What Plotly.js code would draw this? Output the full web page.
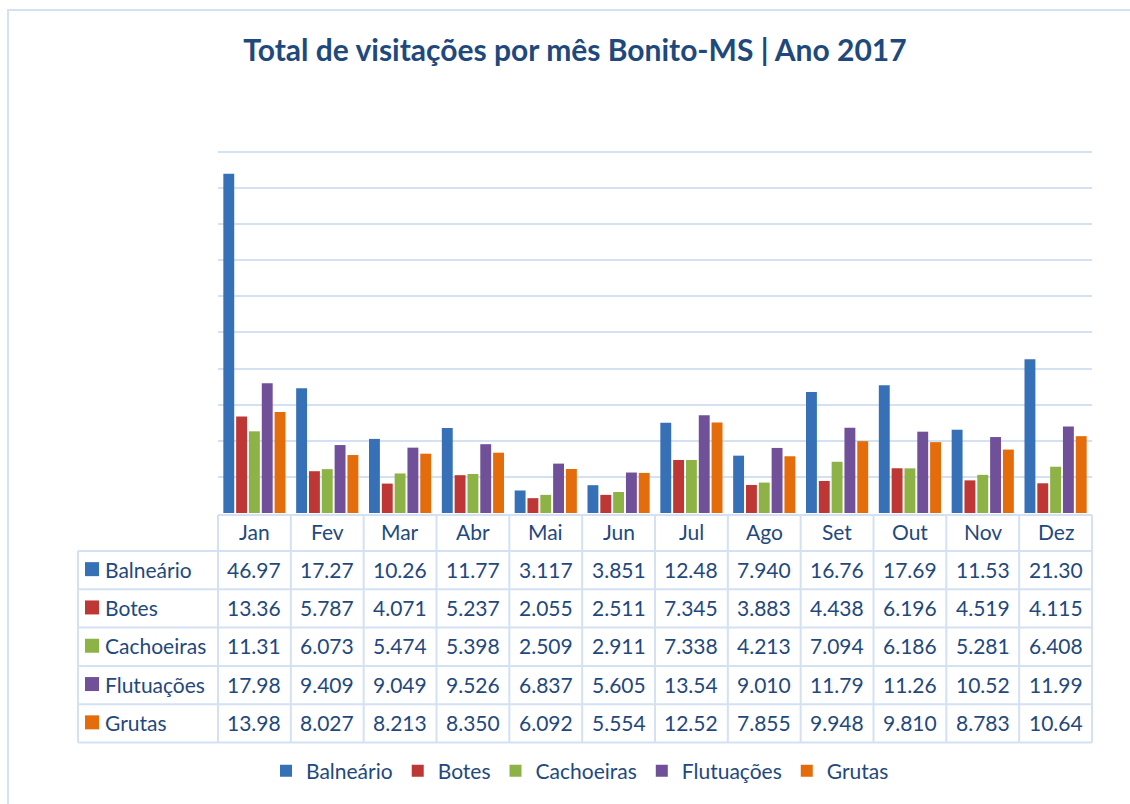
<!DOCTYPE html>
<html>
<head>
<meta charset="utf-8">
<script src="https://cdn.plot.ly/plotly-3.0.1.min.js"></script>
<style>
  html, body { margin: 0; padding: 0; background: #ffffff; }
  #chart { width: 1130px; height: 804px; }
</style>
</head>
<body>
<div id="chart"></div>
<script>
// ---- Data (values in thousands of visits) ----
const months = ["Jan", "Fev", "Mar", "Abr", "Mai", "Jun", "Jul", "Ago", "Set", "Out", "Nov", "Dez"];
const seriesNames = ["Balneário", "Botes", "Cachoeiras", "Flutuações", "Grutas"];
const balneario  = [46.97, 17.27, 10.26, 11.77, 3.117, 3.851, 12.48, 7.940, 16.76, 17.69, 11.53, 21.30];
const botes      = [13.36, 5.787, 4.071, 5.237, 2.055, 2.511, 7.345, 3.883, 4.438, 6.196, 4.519, 4.115];
const cachoeiras = [11.31, 6.073, 5.474, 5.398, 2.509, 2.911, 7.338, 4.213, 7.094, 6.186, 5.281, 6.408];
const flutuacoes = [17.98, 9.409, 9.049, 9.526, 6.837, 5.605, 13.54, 9.010, 11.79, 11.26, 10.52, 11.99];
const grutas     = [13.98, 8.027, 8.213, 8.350, 6.092, 5.554, 12.52, 7.855, 9.948, 9.810, 8.783, 10.64];
const seriesValues = [balneario, botes, cachoeiras, flutuacoes, grutas];
const seriesColors = ["#3671b8", "#bf3734", "#8db346", "#71509a", "#e46c0a"];

// ---- Styling / geometry of the layout (pixels) ----
const W = 1130, H = 804;
const textColor = "#1f497d";
const gridColor = "#d3e1f3";
const fontFam = "Lato, 'Open Sans', sans-serif";
const plotL = 218, plotR = 1092, plotBottom = 513, pxPerUnit = 7.222;
const yMax = 50.5;
const tableL = 78, tableTop = 515, headerH = 36, rowH = 38.3;

const px = v => v / W;          // pixel x -> paper
const py = v => 1 - v / H;      // pixel y -> paper

const barTraces = seriesNames.map((name, i) => ({
  type: "bar",
  name: name,
  x: months,
  y: seriesValues[i],
  marker: { color: seriesColors[i], line: { width: 0 } },
  hoverinfo: "x+y+name"
}));

// ---- Data table below the chart: texts as annotations, grid as lines ----
const annotations = [];
const shapes = [];
const cellFont = { family: fontFam, size: 21, color: textColor };
const tableBottom = tableTop + headerH + seriesNames.length * rowH;
const colW = (plotR - plotL) / months.length;

// header row: month names placed on the category axis
months.forEach(m => {
  annotations.push({
    xref: "x", yref: "paper", x: m, y: py(tableTop + headerH / 2 - 2),
    text: m, showarrow: false, xanchor: "center", yanchor: "middle",
    font: cellFont
  });
});
// data rows
seriesNames.forEach((name, i) => {
  const cy = tableTop + headerH + rowH * (i + 0.5);
  // key square
  shapes.push({
    type: "rect", xref: "paper", yref: "paper",
    x0: px(tableL + 7), x1: px(tableL + 21), y0: py(cy + 6), y1: py(cy - 8),
    fillcolor: seriesColors[i], line: { width: 0 }
  });
  annotations.push({
    xref: "paper", yref: "paper", x: px(tableL + 25), y: py(cy - 1),
    text: name, showarrow: false, xanchor: "left", yanchor: "middle",
    font: cellFont
  });
  months.forEach((m, j) => {
    annotations.push({
      xref: "x", yref: "paper", x: m, y: py(cy - 1),
      text: seriesValues[i][j].toPrecision(4), showarrow: false,
      xanchor: "center", yanchor: "middle", font: cellFont
    });
  });
});
// horizontal borders
const lineStyle = { color: gridColor, width: 2 };
shapes.push({ type: "line", xref: "paper", yref: "paper",
  x0: px(plotL), x1: px(plotR), y0: py(tableTop), y1: py(tableTop), line: lineStyle });
for (let r = 0; r <= seriesNames.length; r++) {
  const y = tableTop + headerH + r * rowH;
  shapes.push({ type: "line", xref: "paper", yref: "paper",
    x0: px(tableL), x1: px(plotR), y0: py(y), y1: py(y), line: lineStyle });
}
// vertical borders
shapes.push({ type: "line", xref: "paper", yref: "paper",
  x0: px(tableL), x1: px(tableL), y0: py(tableTop + headerH), y1: py(tableBottom), line: lineStyle });
for (let c = 0; c <= months.length; c++) {
  const x = plotL + c * colW;
  shapes.push({ type: "line", xref: "paper", yref: "paper",
    x0: px(x), x1: px(x), y0: py(tableTop), y1: py(tableBottom), line: lineStyle });
}
// outer frame of the chart area
shapes.push({
  type: "rect", xref: "paper", yref: "paper",
  x0: px(8), x1: 1.02, y0: -0.02, y1: py(10),
  line: { color: gridColor, width: 2 }, fillcolor: "rgba(0,0,0,0)", layer: "below"
});

const layout = {
  width: W,
  height: H,
  margin: { l: 0, r: 0, t: 0, b: 0 },
  paper_bgcolor: "#ffffff",
  plot_bgcolor: "#ffffff",
  font: { family: fontFam, color: textColor },
  title: {
    text: "<b>Total de visitações por mês Bonito-MS | Ano 2017</b>",
    x: px(575),
    xanchor: "center",
    y: py(50),
    yanchor: "middle",
    font: { family: fontFam, size: 30, color: textColor }
  },
  barmode: "group",
  bargap: 0.12,
  bargroupgap: 0.15,
  xaxis: {
    domain: [px(plotL), px(plotR)],
    showticklabels: false,
    showgrid: false,
    zeroline: false,
    showline: false,
    ticks: "",
    fixedrange: true
  },
  yaxis: {
    domain: [py(plotBottom), py(plotBottom - yMax * pxPerUnit)],
    range: [0, yMax],
    tick0: 0,
    dtick: 5,
    showticklabels: false,
    showgrid: true,
    gridcolor: gridColor,
    gridwidth: 2,
    zeroline: false,
    showline: false,
    ticks: "",
    fixedrange: true
  },
  showlegend: true,
  legend: {
    orientation: "h",
    x: px(580),
    xanchor: "center",
    y: py(771),
    yanchor: "middle",
    font: { family: fontFam, size: 21, color: textColor },
    itemwidth: 30,
    traceorder: "normal",
    bgcolor: "rgba(0,0,0,0)"
  },
  annotations: annotations,
  shapes: shapes
};

Plotly.newPlot("chart", barTraces, layout, { displayModeBar: false, staticPlot: true });
</script>
</body>
</html>
